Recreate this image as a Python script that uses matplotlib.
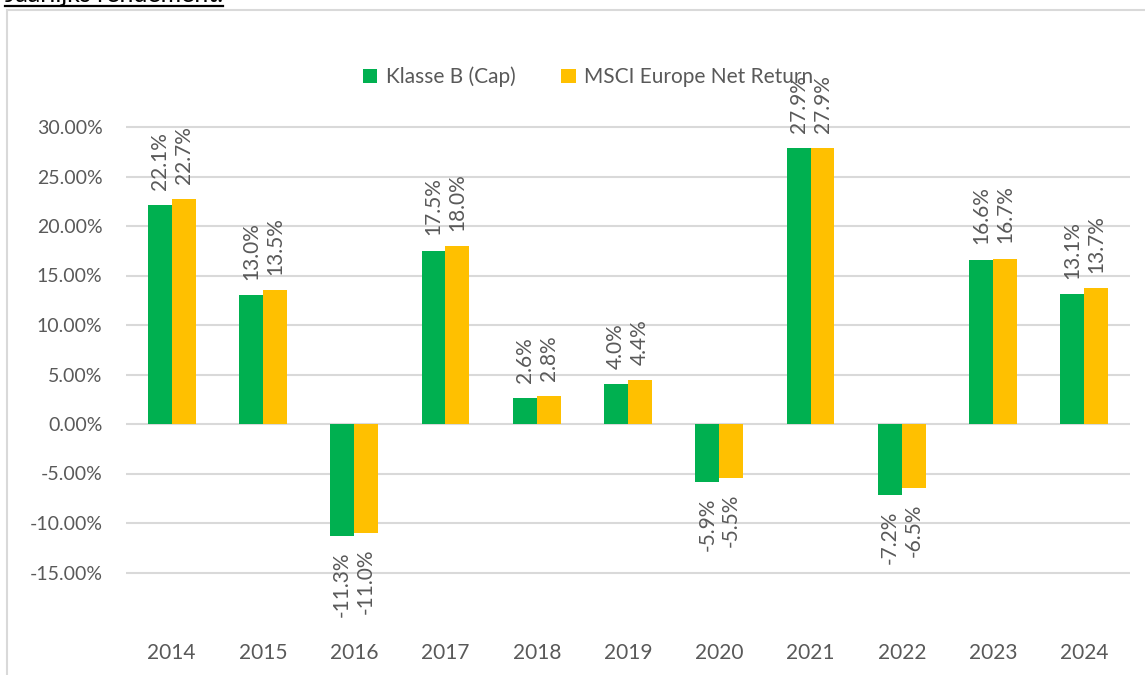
import matplotlib
matplotlib.use("Agg")
import matplotlib.pyplot as plt
import numpy as np
from matplotlib.patches import Rectangle
from matplotlib.lines import Line2D
from matplotlib.ticker import FuncFormatter

years = ["2014", "2015", "2016", "2017", "2018", "2019", "2020", "2021", "2022", "2023", "2024"]
klasse_b = [22.1, 13.0, -11.3, 17.5, 2.6, 4.0, -5.9, 27.9, -7.2, 16.6, 13.1]
msci = [22.7, 13.5, -11.0, 18.0, 2.8, 4.4, -5.5, 27.9, -6.5, 16.7, 13.7]
series_names = ["Klasse B (Cap)", "MSCI Europe Net Return"]
yticks = [-15, -10, -5, 0, 5, 10, 15, 20, 25, 30]

GREEN = "#00B050"
YELLOW = "#FFC000"
TXT = "#595959"
GRID = "#D9D9D9"

plt.rcParams['font.family'] = ['Lato', 'DejaVu Sans']

W, H = 1145, 675
fig = plt.figure(figsize=(W / 100, H / 100), dpi=100)

# chart area border
fig.patches.append(Rectangle((7 / W, -0.1), 1.2, 1 - 10 / H + 0.1, transform=fig.transFigure,
                             fill=False, edgecolor=GRID, linewidth=1.5, zorder=0))
# cut-off title (only its lower part is visible, as in the reference)
title = fig.text(5 / W, 1 - 2 / H, "Jaarlijks rendement:", fontsize=18, color="black",
                 va="baseline", ha="left")
fig.canvas.draw()
bb = title.get_window_extent(renderer=fig.canvas.get_renderer())
fig.lines.append(Line2D([5 / W, bb.x1 / W], [1 - 6 / H, 1 - 6 / H], transform=fig.transFigure,
                        color="black", linewidth=1.6))

ymin, ymax = -21, 36
y0 = 424
ppu = 9.9
bottom_px = y0 + (-ymin) * ppu
top_px = y0 - ymax * ppu
ax = fig.add_axes([126 / W, (H - bottom_px) / H, (1130 - 126) / W, (bottom_px - top_px) / H])

x = np.arange(len(years))
bw = 0.262
b1 = ax.bar(x - bw / 2, klasse_b, bw, color=GREEN, label=series_names[0], zorder=3)
b2 = ax.bar(x + bw / 2, msci, bw, color=YELLOW, label=series_names[1], zorder=3)

for bars, vals in ((b1, klasse_b), (b2, msci)):
    for rect, v in zip(bars, vals):
        cx = rect.get_x() + rect.get_width() / 2
        if v >= 0:
            ax.annotate(f"{v:.1f}%", (cx, v), xytext=(0, 11), textcoords="offset points",
                        rotation=90, ha="center", va="bottom", fontsize=15, color=TXT, zorder=4)
        else:
            ax.annotate(f"{v:.1f}%", (cx, v), xytext=(0, -11), textcoords="offset points",
                        rotation=90, ha="center", va="top", fontsize=15, color=TXT, zorder=4)

ax.set_xlim(-0.5, len(years) - 0.5)
ax.set_ylim(ymin, ymax)
ax.set_yticks(yticks)
ax.yaxis.set_major_formatter(FuncFormatter(lambda v, p: f"{v:.2f}%"))
ax.set_xticks(x)
ax.set_xticklabels(years)
for s in ax.spines.values():
    s.set_visible(False)
ax.tick_params(axis="both", length=0, colors=TXT)
ax.tick_params(axis="y", pad=17, labelsize=14)
ax.tick_params(axis="x", pad=8, labelsize=15)
for yt in yticks:
    ax.axhline(yt, color=GRID, linewidth=1.5, zorder=1)

leg = fig.legend(handles=[b1, b2], loc="center", bbox_to_anchor=(588 / W, 1 - 77 / H), ncol=2,
                 frameon=False, fontsize=15, handlelength=0.7, handleheight=0.7,
                 handletextpad=0.4, columnspacing=2.2)
for t in leg.get_texts():
    t.set_color(TXT)

fig.savefig("out.png", dpi=100)
